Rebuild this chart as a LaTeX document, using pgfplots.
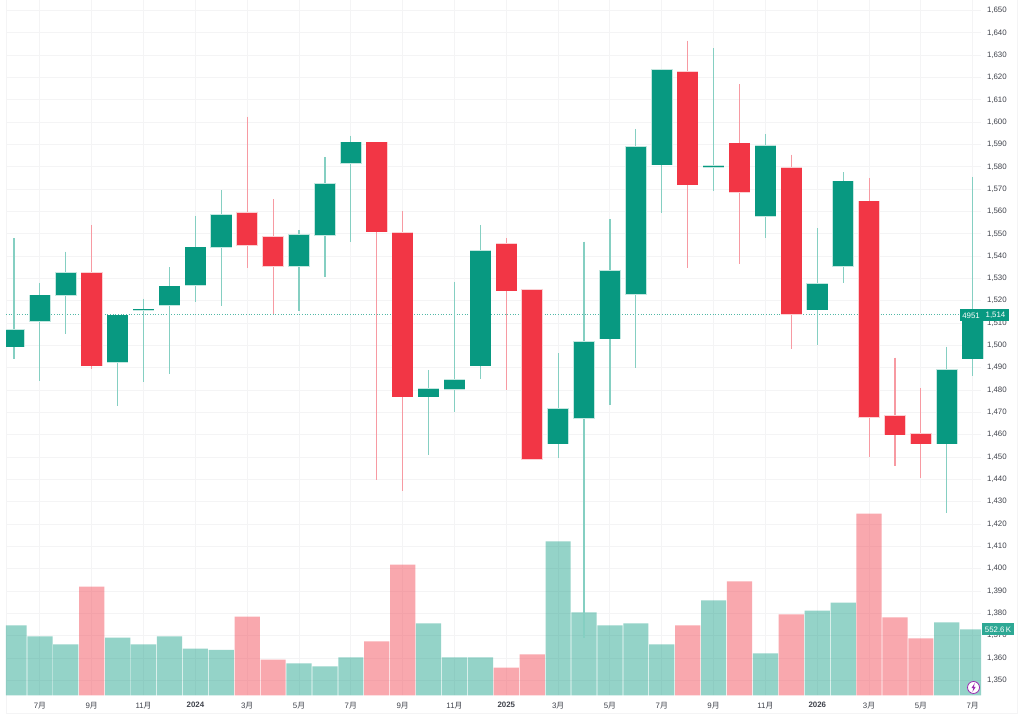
\documentclass[border=0pt]{standalone}
\usepackage{pgfplots}
\usepackage{pgfplotstable}
\usepackage{fontspec}
\pgfplotsset{compat=1.18}
\setmainfont{Liberation Sans}
\newfontfamily\cjk{Noto Sans CJK SC}
\definecolor{upc}{HTML}{089981}
\definecolor{dnc}{HTML}{F23645}
\definecolor{upw}{HTML}{85CFC2}
\definecolor{dnw}{HTML}{F79AA2}
\definecolor{upb}{HTML}{C3E7E0}
\definecolor{dnb}{HTML}{FBD0D3}
\definecolor{gridc}{HTML}{F4F4F5}
\definecolor{tickc}{HTML}{40434C}
\definecolor{bolt}{HTML}{9C27B0}
\pgfplotstableread{
i high top bot low
0 1548 1507 1499.5 1494
1 1528 1522.5 1511 1484
2 1542 1532.5 1522.5 1505
4 1513.5 1513.5 1492.5 1473
5 1521 1516.15 1515.85 1483.5
6 1535 1526.5 1518 1487
7 1558 1544 1527 1519.5
8 1569.5 1558.5 1544 1517.5
11 1551.5 1549.5 1535.5 1515.5
12 1584.5 1572.5 1549.5 1530.5
13 1594 1591 1581.5 1546.5
16 1489 1480.5 1477 1451
17 1528.5 1484.5 1480.5 1470
18 1554 1542.5 1491 1485
21 1496.5 1471.5 1456 1449.5
22 1546.5 1501.5 1467.5 1369
23 1556.5 1533.5 1503 1473.5
24 1597 1589 1523 1490
25 1624 1623.5 1581 1559.5
27 1633 1580.3 1579.7 1569
29 1594.5 1589.5 1558 1548
31 1552.5 1527.5 1516 1500
32 1577.5 1573.5 1535.5 1528
36 1499.5 1489 1456 1425
37 1575.5 1514 1494 1486.5
}\upcandles
\pgfplotstableread{
i high top bot low
3 1554 1532.5 1491 1489.5
9 1602.5 1559.5 1545 1534.5
10 1565.5 1548.5 1535.5 1514
14 1591 1591 1551 1439.5
15 1560 1550.5 1477 1435
19 1548 1545.5 1524.5 1480
20 1525 1525 1449 1449
26 1636.5 1622.5 1572 1534.5
28 1617 1590.5 1568.5 1536.5
30 1585.5 1579.5 1514 1498.5
33 1575 1564.5 1468 1450
34 1494.5 1468.5 1460 1446
35 1481 1460.5 1456 1440.5
}\downcandles
\pgfplotstableread{
i v
0 586
1 494
2 427
4 485
5 427
6 494
7 393
8 381
11 268
12 243
13 318
16 603
17 318
18 318
21 1289
22 695
23 586
24 603
25 427
27 795
29 352
31 711
32 778
36 611
37 552.6
}\upvol
\pgfplotstableread{
i v
3 912
9 661
10 301
14 452
15 1096
19 234
20 343
26 586
28 954
30 678
33 1523
34 653
35 477
}\downvol
\newcommand{\wicks}[2]{\addplot[draw=none,mark=none,forget plot,
  error bars/.cd,y dir=minus,y explicit,error mark=none,
  error bar style={draw=#2,line width=0.85pt}]
  table[x=i,y=high,y error minus expr=\thisrow{high}-\thisrow{low}]{#1};}
\newcommand{\bodies}[3]{\addplot[draw=none,mark=none,forget plot,
  error bars/.cd,y dir=minus,y explicit,error mark=none,
  error bar style={draw=#3,line width=16.2pt}]
  table[x=i,y expr=\thisrow{top}+0.3,y error minus expr=\thisrow{top}-\thisrow{bot}+0.6]{#1};
  \addplot[draw=none,mark=none,forget plot,
  error bars/.cd,y dir=minus,y explicit,error mark=none,
  error bar style={draw=#2,line width=15.4pt}]
  table[x=i,y=top,y error minus expr=\thisrow{top}-\thisrow{bot}]{#1};}
\begin{document}
\begin{tikzpicture}
\begin{scope}[x=0.75pt,y=0.75pt]
\useasboundingbox (0,0) rectangle (1024,720);
\fill[white] (0,0) rectangle (1024,720);
\draw[gridc,line width=0.75pt] (6,720) -- (6,7) -- (1017,7) -- (1017,720);
\end{scope}
% price grid and scale, under everything
\begin{axis}[at={(4.5pt,18.75pt)},anchor=south west,scale only axis,
  width=731.25pt,height=521.25pt,
  xmin=-0.309,xmax=37.32,ymin=1343.2,ymax=1654.5,
  axis line style={draw=none},major tick length=0pt,
  xtick=\empty,
  ytick={1350,1360,...,1650},
  yticklabel pos=right,
  ymajorgrids,major grid style={gridc,line width=0.7pt},
  /pgf/number format/assume math mode=true,
  /pgf/number format/1000 sep={,},
  yticklabel style={font=\fontsize{5.9}{6}\selectfont,text=tickc,anchor=west,xshift=1pt}]
\end{axis}
% volume pane with time axis
\begin{axis}[at={(4.5pt,18.75pt)},anchor=south west,scale only axis,
  width=731.25pt,height=521.25pt,
  xmin=-0.309,xmax=37.32,ymin=0,ymax=5817,
  axis line style={draw=none},major tick length=0pt,
  xtick={1,3,...,37},
  xticklabels={7{\cjk 月},9{\cjk 月},11{\cjk 月},\textbf{2024},3{\cjk 月},5{\cjk 月},7{\cjk 月},9{\cjk 月},11{\cjk 月},\textbf{2025},3{\cjk 月},5{\cjk 月},7{\cjk 月},9{\cjk 月},11{\cjk 月},\textbf{2026},3{\cjk 月},5{\cjk 月},7{\cjk 月}},
  xticklabel style={font=\fontsize{5.9}{6}\selectfont,text=tickc,yshift=-1.5pt},
  ytick=\empty,
  xmajorgrids,major grid style={gridc,line width=0.7pt},
  ybar,bar shift=0pt,bar width=18.9pt,clip=true]
\addplot[fill=upc,fill opacity=0.43,draw=none] table[x=i,y=v]{\upvol};
\addplot[fill=dnc,fill opacity=0.43,draw=none] table[x=i,y=v]{\downvol};
\end{axis}
% candles
\begin{axis}[at={(4.5pt,18.75pt)},anchor=south west,scale only axis,
  width=731.25pt,height=521.25pt,
  xmin=-0.309,xmax=37.32,ymin=1343.2,ymax=1654.5,
  axis line style={draw=none},major tick length=0pt,
  xtick=\empty,ytick=\empty,
  clip=false]
\addplot[upc!70,line width=0.7pt,dash pattern=on 0.8pt off 1.2pt,forget plot] coordinates {(-0.309,1514)(36.5,1514)};
\begin{scope}
\clip (axis cs:-0.309,1343.2) rectangle (axis cs:38,1654.5);
\wicks{\upcandles}{upw}
\wicks{\downcandles}{dnw}
\bodies{\upcandles}{upc}{upb}
\bodies{\downcandles}{dnc}{dnb}
\end{scope}
\end{axis}
% tags and icon
\begin{scope}[x=0.75pt,y=0.75pt]
\fill[upc] (960,399) rectangle (981.5,411);
\node[text=white,font=\fontsize{5.9}{6}\selectfont] at (971,405) {4951};
\fill[upc] (982,399) rectangle (1009,411);
\node[text=white,font=\fontsize{5.9}{6}\selectfont] at (995.5,405) {1,514};
\fill[upc!85!white] (982,85) rectangle (1014,97);
\node[text=white,font=\fontsize{5.9}{6}\selectfont] at (998,91) {552.6\,K};
\filldraw[fill=white,draw=bolt,line width=0.6pt] (973.5,33) circle (6);
\fill[bolt] (974.8,37.5) -- (971.5,32.4) -- (973.4,32.4) -- (972.4,28.5) -- (975.7,33.6) -- (973.8,33.6) -- cycle;
\end{scope}
\end{tikzpicture}
\end{document}
